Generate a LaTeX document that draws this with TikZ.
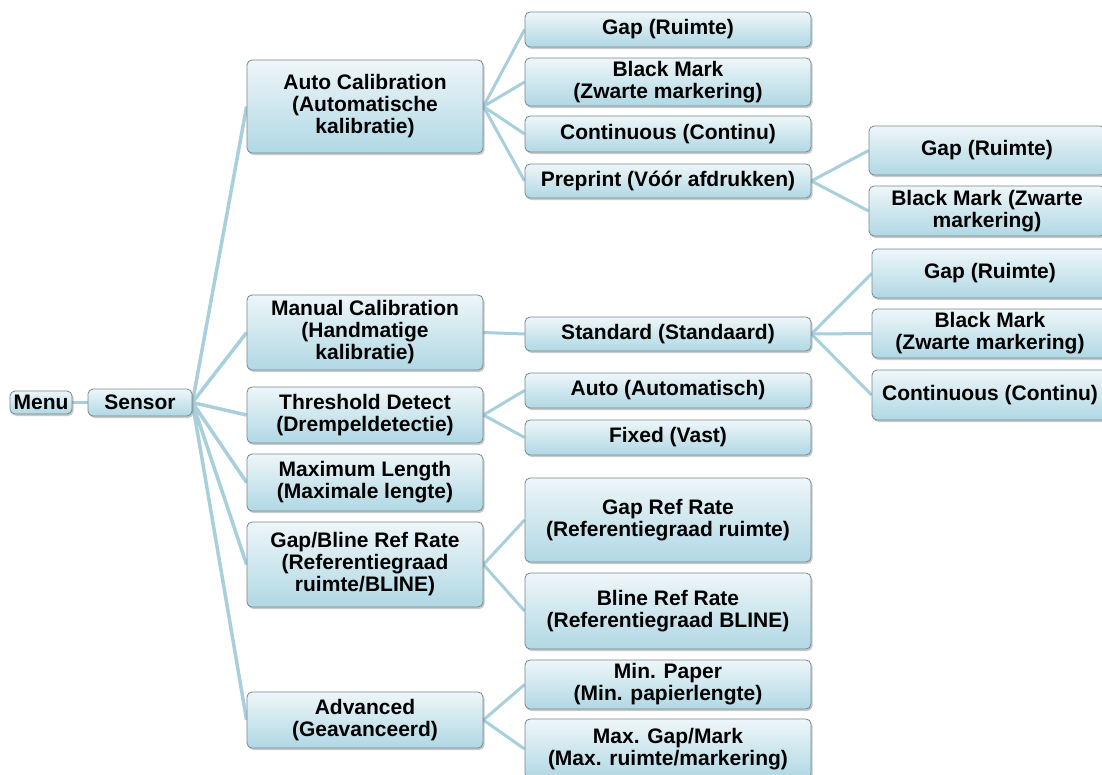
\documentclass[tikz,border=0pt]{standalone}
\usepackage{fontspec}
\setmainfont{Liberation Sans}
\usetikzlibrary{shadows}
\pgfdeclarelayer{bg}
\pgfsetlayers{bg,main}
\definecolor{boxtop}{HTML}{EEF6F9}
\definecolor{boxbot}{HTML}{B0D8E4}
\definecolor{boxline}{HTML}{75888F}
\definecolor{linkc}{HTML}{A7CFDC}
\begin{document}
\begin{tikzpicture}[x=1pt,y=-1pt,
  box/.style={draw=boxline, line width=0.8pt, rounded corners=5pt, top color=boxtop, bottom color=boxbot,
    font=\bfseries\fontsize{21}{22}\selectfont, align=center, inner sep=0pt,
    drop shadow={shadow xshift=1.5pt, shadow yshift=-2pt, opacity=0.35, fill=black!60}},
  w1/.style={box, minimum width=236pt},
  w2/.style={box, minimum width=286pt},
  w3/.style={box, minimum width=236pt},
  conn/.style={draw=linkc, line width=3.5pt},
  conn2/.style={draw=linkc, line width=3pt}]
\useasboundingbox (0,0) rectangle (1102,774);
\clip (0,0) rectangle (1102,774);

\node[box, minimum width=62pt, minimum height=23pt] (menu) at (41,402.5) {Menu};
\node[box, minimum width=104pt, minimum height=27pt] (sensor) at (140,402.5) {Sensor};

\node[w1, minimum height=93pt] (ac) at (365,106.5) {Auto Calibration\\(Automatische\\kalibratie)};
\node[w1, minimum height=75pt] (mc) at (365,332.5) {Manual Calibration\\(Handmatige\\kalibratie)};
\node[w1, minimum height=56pt] (td) at (365,415) {Threshold Detect\\(Drempeldetectie)};
\node[w1, minimum height=57pt] (ml) at (365,482.5) {Maximum Length\\(Maximale lengte)};
\node[w1, minimum height=85pt] (gb) at (365,564.5) {Gap/Bline Ref Rate\\(Referentiegraad\\ruimte/BLINE)};
\node[w1, minimum height=56pt] (adv) at (365,720) {Advanced\\(Geavanceerd)};

\node[w2, minimum height=35pt] (g1) at (668,29.5) {Gap (Ruimte)};
\node[w2, minimum height=48pt] (bm1) at (668,82) {Black Mark\\(Zwarte markering)};
\node[w2, minimum height=36pt] (co1) at (668,134) {Continuous (Continu)};
\node[w2, minimum height=34pt] (pp) at (668,181) {Preprint (Vóór afdrukken)};
\node[w2, minimum height=34pt] (st) at (668,334) {Standard (Standaard)};
\node[w2, minimum height=35pt] (au) at (668,390.5) {Auto (Automatisch)};
\node[w2, minimum height=35pt] (fx) at (668,437.5) {Fixed (Vast)};
\node[w2, minimum height=84pt] (grr) at (668,520) {Gap Ref Rate\\(Referentiegraad ruimte)};
\node[w2, minimum height=76pt] (brr) at (668,611) {Bline Ref Rate\\(Referentiegraad BLINE)};
\node[w2, minimum height=49pt] (mp) at (668,684.5) {Min. Paper\\(Min. papierlengte)};
\node[w2, minimum height=60pt] (mg) at (668,749) {Max. Gap/Mark\\(Max. ruimte/markering)};

\node[w3, minimum height=49pt] (g3) at (987,150.5) {Gap (Ruimte)};
\node[w3, minimum height=50pt] (bm3) at (987,211) {Black Mark (Zwarte\\markering)};
\node[w3, minimum height=49pt] (g4) at (990,273.5) {Gap (Ruimte)};
\node[w3, minimum height=49pt] (bm4) at (990,333.5) {Black Mark\\(Zwarte markering)};
\node[w3, minimum height=50pt] (co4) at (990,395) {Continuous (Continu)};

\begin{pgfonlayer}{bg}
\draw[conn] (menu.east) -- (sensor.west);
\foreach \t in {ac,mc,td,ml,gb,adv} \draw[conn] (sensor.east) -- (\t.west);
\foreach \t in {g1,bm1,co1,pp} \draw[conn2] (ac.east) -- (\t.west);
\draw[conn2] (mc.east) -- (st.west);
\foreach \t in {au,fx} \draw[conn2] (td.east) -- (\t.west);
\foreach \t in {grr,brr} \draw[conn2] (gb.east) -- (\t.west);
\foreach \t in {mp,mg} \draw[conn2] (adv.east) -- (\t.west);
\foreach \t in {g3,bm3} \draw[conn2] (pp.east) -- (\t.west);
\foreach \t in {g4,bm4,co4} \draw[conn2] (st.east) -- (\t.west);
\end{pgfonlayer}
\end{tikzpicture}
\end{document}
